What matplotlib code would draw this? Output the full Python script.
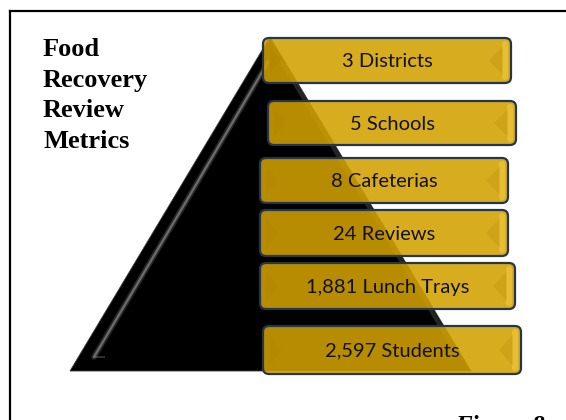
import matplotlib
matplotlib.use("Agg")
import matplotlib.pyplot as plt
from matplotlib.patches import FancyBboxPatch, Polygon

# pyramid labels, top to bottom
labels = ["3 Districts", "5 Schools", "8 Cafeterias", "24 Reviews",
          "1,881 Lunch Trays", "2,597 Students"]
title_lines = ["Food", "Recovery", "Review", "Metrics"]
caption = "Figure 8"

# layout of the boxes (pixels, y down)
box_left = [263, 268, 260, 260, 260, 263]
box_right = [511, 516, 508, 508, 515, 521]
box_top = [38, 101, 158, 210, 263, 326]
box_bottom = [83, 145, 203, 256, 309, 374]

W, H = 566, 420
fig = plt.figure(figsize=(W / 100, H / 100), dpi=100)
ax = fig.add_axes([0, 0, 1, 1])
ax.set_xlim(0, W)
ax.set_ylim(H, 0)
ax.axis("off")

# frame (only top and left visible in the crop)
ax.plot([10, 10], [H + 5, 11], color="black", lw=1.6, solid_capstyle="projecting")
ax.plot([10, W + 5], [11, 11], color="black", lw=1.6, solid_capstyle="projecting")

# title
for i, line in enumerate(title_lines):
    ax.text(43, 56 + 30.7 * i, line, family="Liberation Serif", weight="bold",
            fontsize=19, va="baseline", ha="left", color="black")

# black pyramid
apex = (270, 37)
base_l = (70, 371)
base_r = (471, 371)
ax.add_patch(Polygon([apex, base_l, base_r], closed=True, facecolor="black",
                     edgecolor="#3a3a3a", lw=0.6, zorder=2))
# glossy bevel highlights
hx = [94, 187, 268]
hy = [357, 200, 62]
ax.plot(hx, hy, color="#5a5a5a", lw=4.0, alpha=0.45,
        solid_capstyle="round", zorder=3)
ax.plot(hx, hy, color="#9a9a9a", lw=1.6, alpha=0.6,
        solid_capstyle="round", zorder=3)
ax.plot([94, 104], [357, 357], color="#777777", lw=1.5, alpha=0.4, zorder=3)
ax.plot([282, 456], [62, 352], color="#6a6a6a", lw=3.0, alpha=0.35, zorder=3)

# golden boxes
for i, lab in enumerate(labels):
    x0, x1 = box_left[i], box_right[i]
    y0, y1 = box_top[i], box_bottom[i]
    w, h = x1 - x0, y1 - y0
    ym = (y0 + y1) / 2
    ax.add_patch(FancyBboxPatch((x0, y0), w, h,
                                boxstyle="round,pad=0,rounding_size=6",
                                facecolor=(211 / 255, 161 / 255, 0), alpha=0.88,
                                edgecolor="none", zorder=4))
    # light strip at right edge
    ax.add_patch(FancyBboxPatch((x1 - 9, y0 + 3), 6, h - 6,
                                boxstyle="round,pad=0,rounding_size=3",
                                facecolor="#f2cc45", alpha=0.55,
                                edgecolor="none", zorder=5))
    # faint chevrons
    ax.add_patch(Polygon([(x0 + 6, y0 + 8), (x0 + 18, ym), (x0 + 6, y1 - 8)],
                         facecolor="#a37c00", alpha=0.18, edgecolor="none", zorder=5))
    ax.add_patch(Polygon([(x1 - 8, y0 + 8), (x1 - 22, ym), (x1 - 8, y1 - 8)],
                         facecolor="#a37c00", alpha=0.18, edgecolor="none", zorder=5))
    ax.add_patch(FancyBboxPatch((x0, y0), w, h,
                                boxstyle="round,pad=0,rounding_size=6",
                                facecolor="none", edgecolor="#26364a",
                                lw=1.6, zorder=6))
    ax.text((x0 + x1) / 2, ym + 1, lab, family="Lato", fontsize=14.5,
            ha="center", va="center", color="#111111", zorder=7)

# caption, cut off at the bottom of the image as in the source
ax.text(455, 433, caption, family="Liberation Serif", weight="bold",
        style="italic", fontsize=18, ha="left", va="baseline",
        color="black", clip_on=False)

fig.savefig("out.png", dpi=100)
